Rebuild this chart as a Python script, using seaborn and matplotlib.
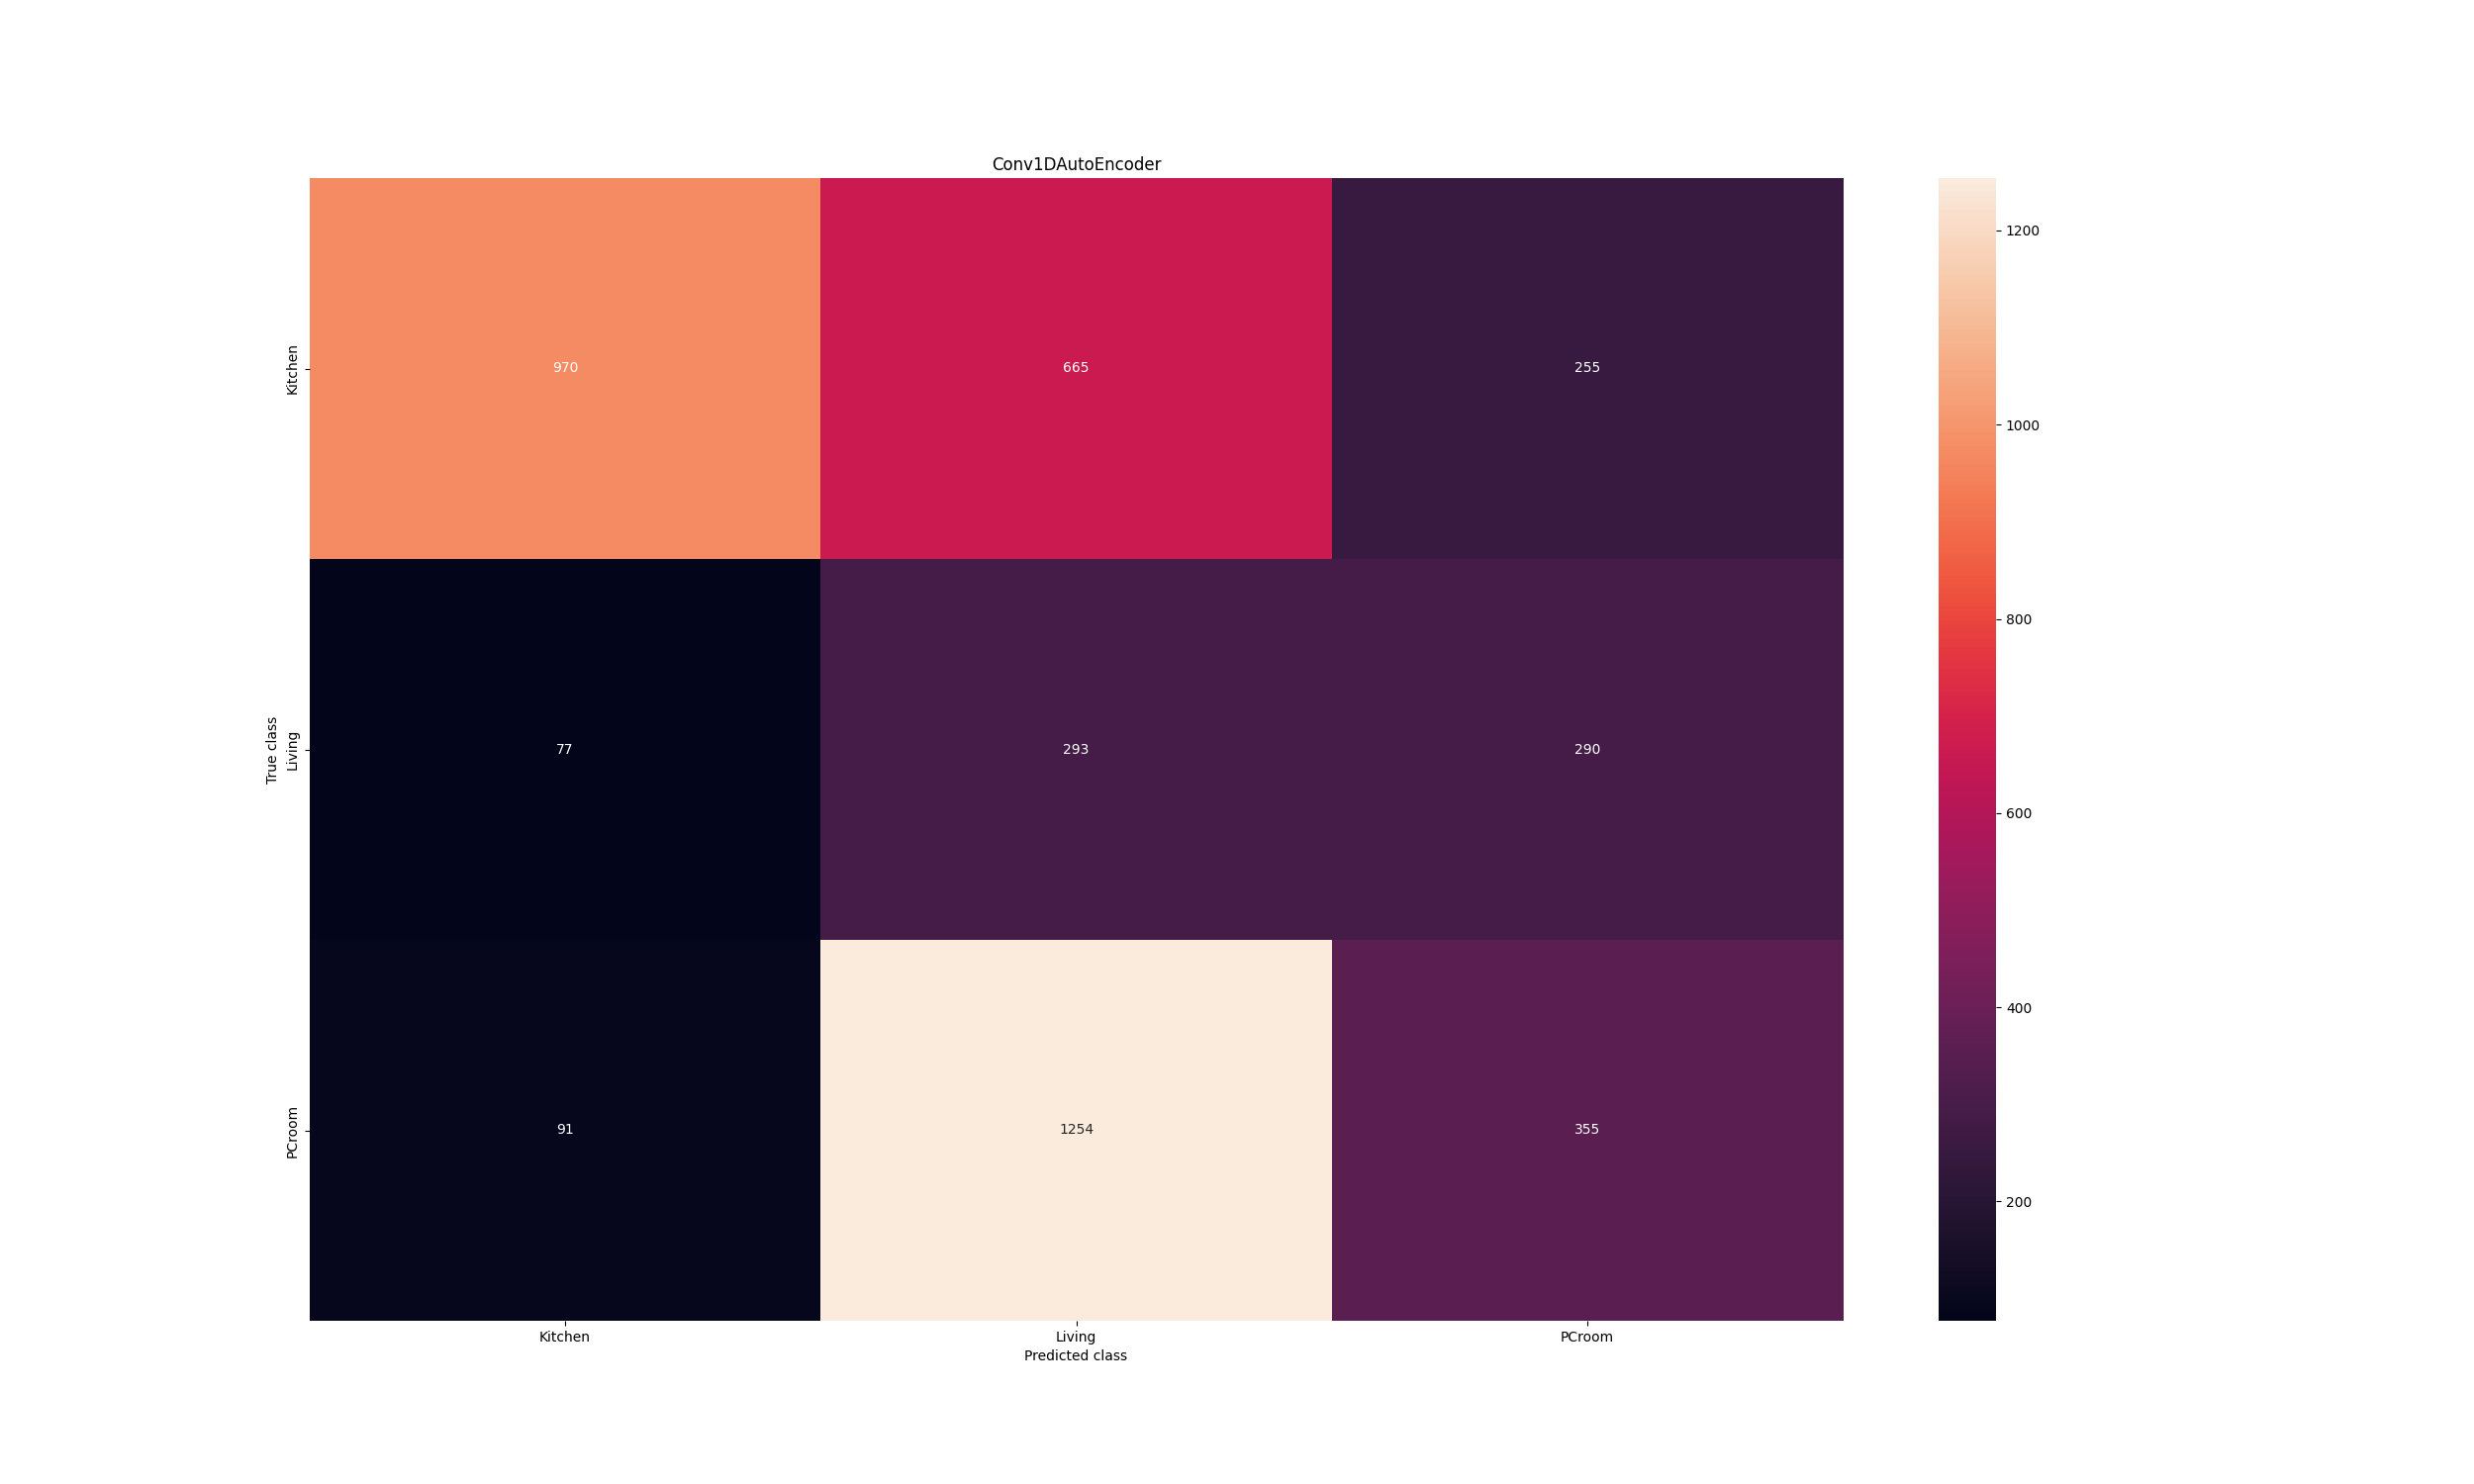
import numpy as np
import pandas as pd
import matplotlib
matplotlib.use("Agg")
import matplotlib.pyplot as plt
import seaborn as sns

# sınıf etiketleri ve karışıklık matrisi
classes = ["Kitchen", "Living", "PCroom"]
row_kitchen = [970, 665, 255]
row_living = [77, 293, 290]
row_pcroom = [91, 1254, 355]

cm = pd.DataFrame([row_kitchen, row_living, row_pcroom], index=classes, columns=classes)

plt.figure(figsize=(25, 15), dpi=100)
sns.heatmap(cm, annot=True, fmt="d")
plt.title("Conv1DAutoEncoder")
plt.ylabel("True class")
plt.xlabel("Predicted class")
plt.savefig("out.png", dpi=100)
